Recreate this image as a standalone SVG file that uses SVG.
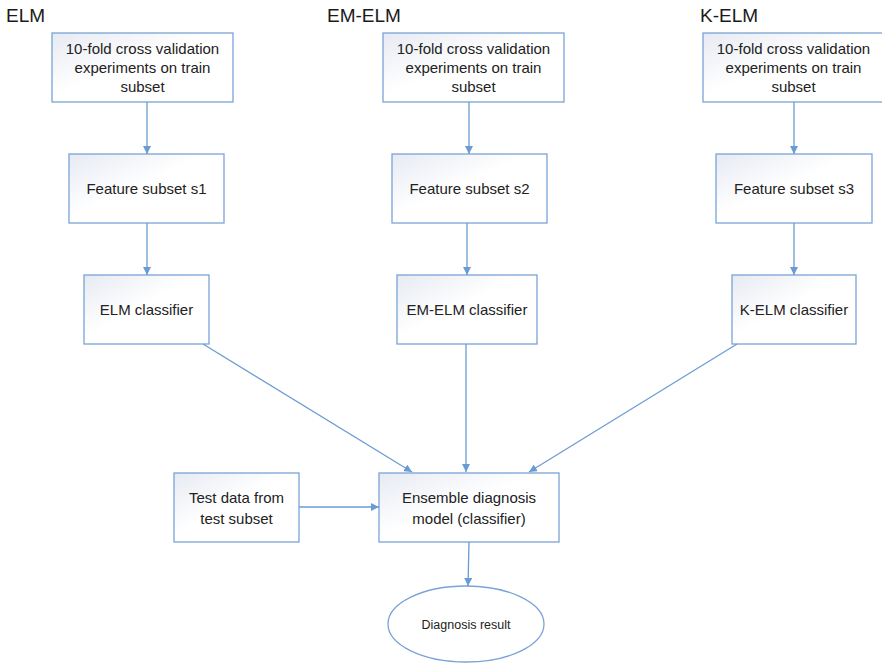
<svg xmlns="http://www.w3.org/2000/svg" width="882" height="663" viewBox="0 0 882 663">
  <style>
    .box { fill: url(#boxFill); stroke: #7aa3d6; stroke-width: 1.3; }
    .lbl { font-family: "Liberation Sans", Arial, sans-serif; font-size: 15px; fill: #222222; text-anchor: middle; }
    .small { font-size: 12.5px; }
    .title { font-family: "Liberation Sans", Arial, sans-serif; font-size: 19px; fill: #1a1a1a; }
    .conn { stroke: #6a9bd3; stroke-width: 1.3; fill: none; marker-end: url(#arrow); }
  </style>
  <defs>
    <linearGradient id="boxFill" x1="0" y1="0" x2="1" y2="1">
      <stop offset="0" stop-color="#e6eaf2"/>
      <stop offset="0.45" stop-color="#ffffff"/>
      <stop offset="1" stop-color="#ffffff"/>
    </linearGradient>
    <marker id="arrow" viewBox="0 0 10 10" refX="10" refY="5" markerWidth="8" markerHeight="8" markerUnits="userSpaceOnUse" orient="auto">
      <path d="M0,0 L10,5 L0,10 z" fill="#6a9bd3"/>
    </marker>
  </defs>

  <rect width="882" height="663" fill="#ffffff"/>

  <!-- column titles -->
  <text class="title" x="6" y="22">ELM</text>
  <text class="title" x="327" y="22">EM-ELM</text>
  <text class="title" x="700" y="22">K-ELM</text>

  <!-- ELM column -->
  <g id="elm-cv">
    <rect class="box" x="52" y="33" width="181" height="69"/>
    <text class="lbl" x="142.5" y="54">10-fold cross validation</text>
    <text class="lbl" x="142.5" y="73">experiments on train</text>
    <text class="lbl" x="142.5" y="92">subset</text>
  </g>
  <g id="elm-feature">
    <rect class="box" x="69" y="154" width="155" height="69"/>
    <text class="lbl" x="146.5" y="194">Feature subset s1</text>
  </g>
  <g id="elm-classifier">
    <rect class="box" x="84" y="275" width="125" height="69"/>
    <text class="lbl" x="146.5" y="315">ELM classifier</text>
  </g>

  <!-- EM-ELM column -->
  <g id="emelm-cv">
    <rect class="box" x="383" y="33" width="181" height="69"/>
    <text class="lbl" x="473.5" y="54">10-fold cross validation</text>
    <text class="lbl" x="473.5" y="73">experiments on train</text>
    <text class="lbl" x="473.5" y="92">subset</text>
  </g>
  <g id="emelm-feature">
    <rect class="box" x="392" y="154" width="155" height="69"/>
    <text class="lbl" x="469.5" y="194">Feature subset s2</text>
  </g>
  <g id="emelm-classifier">
    <rect class="box" x="397" y="275" width="140" height="69"/>
    <text class="lbl" x="467" y="315">EM-ELM classifier</text>
  </g>

  <!-- K-ELM column -->
  <g id="kelm-cv">
    <rect class="box" x="703" y="33" width="181" height="69"/>
    <text class="lbl" x="793.5" y="54">10-fold cross validation</text>
    <text class="lbl" x="793.5" y="73">experiments on train</text>
    <text class="lbl" x="793.5" y="92">subset</text>
  </g>
  <g id="kelm-feature">
    <rect class="box" x="716" y="154" width="156" height="69"/>
    <text class="lbl" x="794" y="194">Feature subset s3</text>
  </g>
  <g id="kelm-classifier">
    <rect class="box" x="732" y="275" width="124" height="69"/>
    <text class="lbl" x="794" y="315">K-ELM classifier</text>
  </g>

  <!-- bottom -->
  <g id="test-data">
    <rect class="box" x="174" y="473" width="125" height="69"/>
    <text class="lbl" x="236.5" y="503">Test data from</text>
    <text class="lbl" x="236.5" y="524">test subset</text>
  </g>
  <g id="ensemble">
    <rect class="box" x="379" y="473" width="180" height="69"/>
    <text class="lbl" x="469" y="503">Ensemble diagnosis</text>
    <text class="lbl" x="469" y="524">model (classifier)</text>
  </g>
  <g id="result">
    <ellipse cx="466" cy="624" rx="78" ry="38" fill="#ffffff" stroke="#7aa3d6" stroke-width="1.3"/>
    <text class="lbl small" x="466" y="629">Diagnosis result</text>
  </g>

  <!-- connectors -->
  <g id="connectors">
    <line class="conn" x1="147" y1="102" x2="147" y2="154"/>
    <line class="conn" x1="147" y1="223" x2="147" y2="275"/>
    <line class="conn" x1="469" y1="102" x2="469" y2="154"/>
    <line class="conn" x1="467" y1="223" x2="467" y2="275"/>
    <line class="conn" x1="794" y1="102" x2="794" y2="154"/>
    <line class="conn" x1="794" y1="223" x2="794" y2="275"/>
    <line class="conn" x1="203" y1="344" x2="412" y2="472"/>
    <line class="conn" x1="466" y1="344" x2="466" y2="472"/>
    <line class="conn" x1="737" y1="344" x2="529" y2="472"/>
    <line class="conn" x1="299" y1="507" x2="379" y2="507"/>
    <line class="conn" x1="469" y1="542" x2="468" y2="586"/>
  </g>
</svg>
